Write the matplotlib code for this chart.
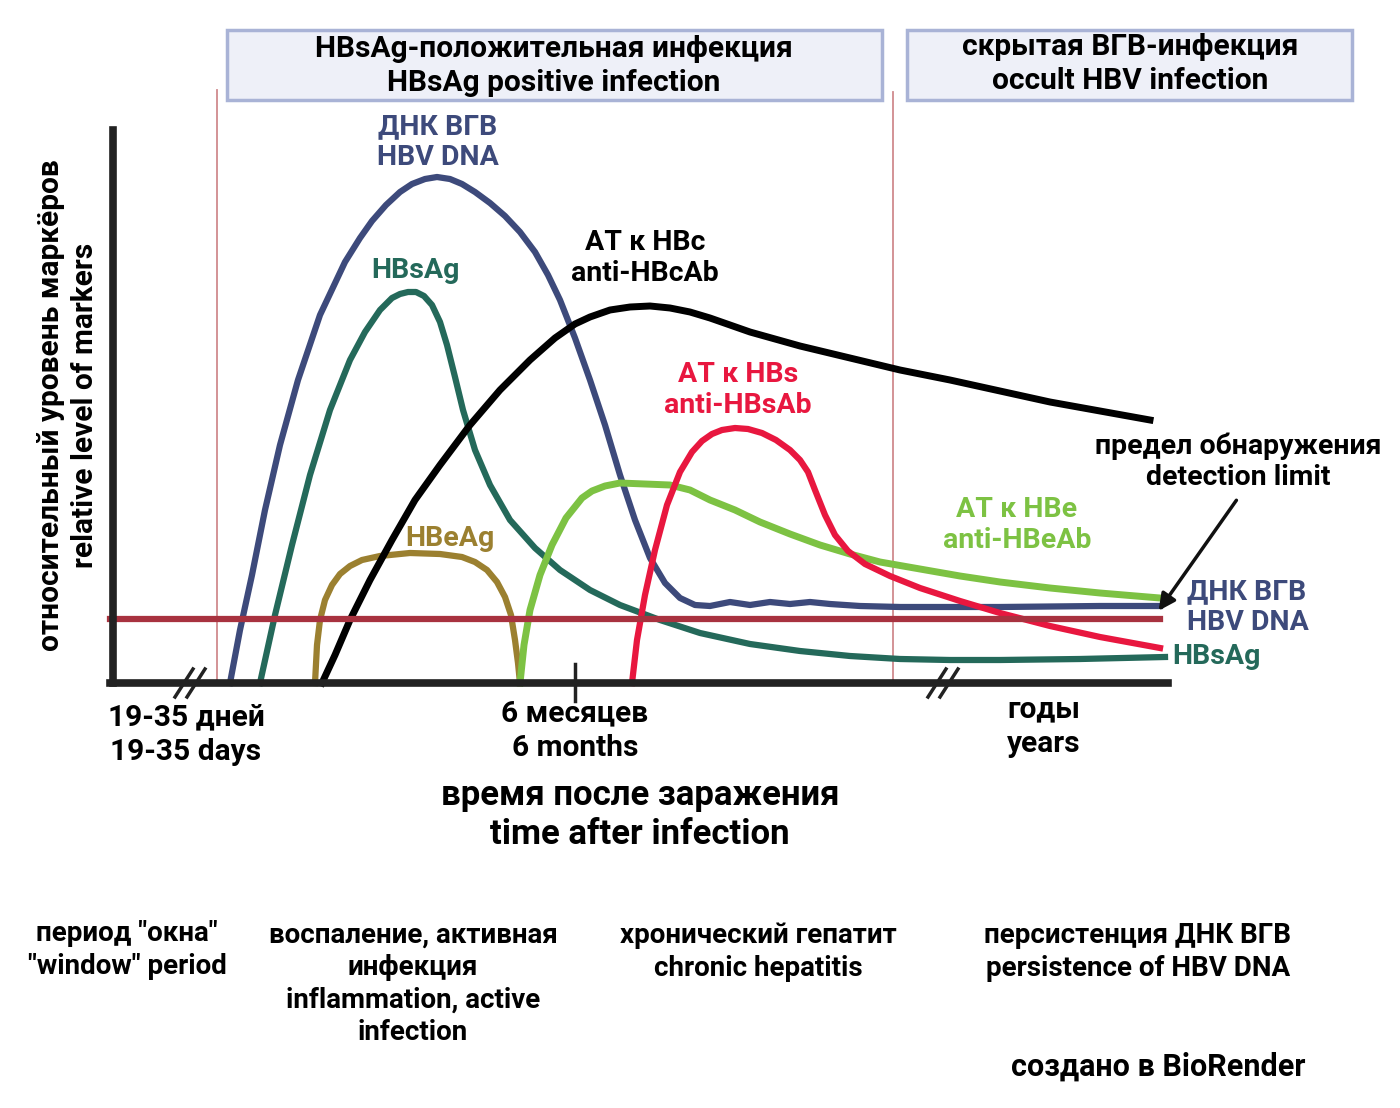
import matplotlib.pyplot as plt
from matplotlib.patches import Rectangle

plt.rcParams['font.family'] = ['Roboto', 'DejaVu Sans']

# curves in image pixel units (x: time, y: level, downwards)
dna_x = [230, 240, 252, 265, 280, 298, 320, 345, 360, 372, 386, 400, 412, 425, 437, 450, 462, 475, 490, 505, 520, 535, 548, 560, 575, 590, 605, 620, 635, 650, 665, 680, 695, 710, 730, 750, 770, 790, 810, 830, 860, 900, 1000, 1100, 1160]
dna_y = [683, 630, 575, 510, 445, 380, 315, 262, 238, 221, 205, 192, 184, 179, 177, 179, 184, 192, 203, 216, 232, 252, 275, 300, 338, 380, 425, 475, 520, 558, 583, 598, 605, 606, 602, 605, 602, 604, 602, 604, 606, 607, 607, 606, 606]

hbsag_x = [260, 275, 292, 310, 330, 350, 365, 380, 392, 400, 408, 416, 424, 432, 440, 447, 455, 463, 475, 490, 510, 535, 560, 590, 620, 660, 700, 750, 800, 850, 900, 950, 1000, 1080, 1165]
hbsag_y = [683, 615, 545, 475, 410, 360, 332, 310, 298, 294, 292, 292, 296, 305, 322, 345, 377, 410, 450, 485, 520, 548, 570, 590, 605, 620, 633, 644, 651, 656, 659, 660, 660, 659, 657]

hbeag_x = [315, 317, 320, 325, 332, 340, 350, 362, 380, 410, 440, 462, 475, 487, 497, 505, 511, 515, 518, 520]
hbeag_y = [683, 645, 620, 600, 585, 574, 566, 560, 556, 553, 554, 557, 562, 570, 582, 597, 615, 640, 663, 683]

hbcab_x = [322, 335, 350, 370, 392, 415, 440, 470, 500, 530, 555, 575, 590, 610, 630, 650, 670, 690, 710, 730, 750, 775, 800, 850, 900, 950, 1000, 1050, 1100, 1150]
hbcab_y = [683, 655, 620, 580, 540, 500, 465, 425, 390, 360, 338, 324, 317, 310, 307, 306, 308, 312, 318, 325, 332, 339, 346, 358, 370, 380, 391, 402, 411, 420]

hbeab_x = [520, 524, 530, 540, 552, 566, 582, 592, 605, 620, 645, 670, 690, 710, 735, 760, 790, 820, 850, 880, 920, 960, 1000, 1050, 1100, 1160]
hbeab_y = [683, 645, 610, 575, 545, 518, 498, 491, 486, 483, 484, 485, 490, 500, 510, 522, 534, 545, 554, 562, 569, 576, 582, 588, 593, 598]

hbsab_x = [632, 637, 645, 655, 667, 680, 692, 702, 712, 722, 735, 748, 762, 776, 790, 800, 808, 815, 825, 835, 848, 865, 890, 920, 960, 1000, 1050, 1100, 1160]
hbsab_y = [683, 640, 595, 550, 505, 472, 452, 441, 434, 430, 428, 429, 433, 440, 450, 460, 472, 490, 515, 535, 551, 564, 576, 588, 601, 613, 626, 637, 648]

limit_level = 619
baseline = 683
six_months_x = 575

fig = plt.figure(figsize=(14, 11.08), dpi=100)
ax = fig.add_axes([0, 0, 1, 1])
ax.set_xlim(0, 1400)
ax.set_ylim(1108, 0)
ax.axis('off')

# phase boxes and separators
ax.add_patch(Rectangle((227, 30), 655, 70, facecolor='#eef0f8', edgecolor='#a9b3d6', lw=2.5))
ax.add_patch(Rectangle((907, 30), 445, 70, facecolor='#eef0f8', edgecolor='#a9b3d6', lw=2.5))
ax.plot([217, 217], [90, baseline], color='#d08a8e', lw=1.3)
ax.plot([893, 893], [92, baseline], color='#d08a8e', lw=1.3)

box_kw = dict(ha='center', va='center', fontsize=21.5, fontweight='bold', linespacing=1.25)
ax.text(554, 66, 'HBsAg-положительная инфекция\nHBsAg positive infection', **box_kw)
ax.text(1130, 64, 'скрытая ВГВ-инфекция\noccult HBV infection', **box_kw)

# curves
lw = 4.5
ax.plot(hbeag_x, hbeag_y, color='#9b8030', lw=lw, solid_joinstyle='round')
ax.plot(hbsag_x, hbsag_y, color='#24695a', lw=lw, solid_joinstyle='round')
ax.plot(dna_x, dna_y, color='#3d4a7b', lw=lw, solid_joinstyle='round')
ax.plot(hbcab_x, hbcab_y, color='black', lw=lw + 0.5, solid_joinstyle='round')
ax.plot(hbeab_x, hbeab_y, color='#7dc243', lw=lw + 0.5, solid_joinstyle='round')
ax.plot(hbsab_x, hbsab_y, color='#e8173f', lw=lw, solid_joinstyle='round')

# detection limit
ax.plot([110, 1160], [limit_level, limit_level], color='#a8323f', lw=4.5)

# axes
ax.plot([113, 113], [130, baseline], color='#222222', lw=5.5)
ax.plot([110, 1168], [baseline, baseline], color='#222222', lw=5.5)
ax.plot([six_months_x, six_months_x], [664, 701], color='#222222', lw=2.5)
for bx in [190, 943]:
    for dx in [-6, 6]:
        ax.plot([bx + dx - 9, bx + dx + 9], [baseline + 14, baseline - 14], color='#222222', lw=2.5)

# arrow to detection limit
ax.annotate('', xy=(1157, 613), xytext=(1238, 498),
            arrowprops=dict(arrowstyle='-|>', color='#111111', lw=2.5, mutation_scale=25))

lab = dict(ha='center', va='center', fontsize=20.5, fontweight='bold', linespacing=1.2)
ax.text(438, 142, 'ДНК ВГВ\nHBV DNA', color='#3d4a7b', **lab)
ax.text(415, 271, 'HBsAg', color='#24695a', **lab)
ax.text(645, 258, 'АТ к HBc\nanti-HBcAb', color='black', **lab)
ax.text(738, 390, 'АТ к HBs\nanti-HBsAb', color='#e8173f', **lab)
ax.text(450, 538, 'HBeAg', color='#9b8030', **lab)
ax.text(1017, 525, 'АТ к HBe\nanti-HBeAb', color='#7dc243', **lab)
ax.text(1238, 462, 'предел обнаружения\ndetection limit', color='black', **lab)
ax.text(1187, 607, 'ДНК ВГВ\nHBV DNA', color='#3d4a7b', ha='left', va='center',
        fontsize=20.5, fontweight='bold', linespacing=1.2)
ax.text(1172, 657, 'HBsAg', color='#24695a', ha='left', va='center',
        fontsize=20.5, fontweight='bold')

tick = dict(ha='center', va='center', fontsize=21.5, fontweight='bold', linespacing=1.3)
ax.text(186, 735, '19-35 дней\n19-35 days', **tick)
ax.text(575, 731, '6 месяцев\n6 months', **tick)
ax.text(1044, 727, 'годы\nyears', **tick)
ax.text(640, 815, 'время после заражения\ntime after infection', ha='center', va='center',
        fontsize=25, fontweight='bold', linespacing=1.25)
ax.text(68, 405, 'относительный уровень маркёров\nrelative level of markers', rotation=90,
        ha='center', va='center', fontsize=21.5, fontweight='bold', linespacing=1.25)

bot = dict(ha='center', va='center', fontsize=20, fontweight='bold', linespacing=1.25)
ax.text(127, 950, 'период "окна"\n"window" period', **bot)
ax.text(413, 984, 'воспаление, активная\nинфекция\ninflammation, active\ninfection', **bot)
ax.text(758, 952, 'хронический гепатит\nchronic hepatitis', **bot)
ax.text(1138, 952, 'персистенция ДНК ВГВ\npersistence of HBV DNA', **bot)
ax.text(1158, 1067, 'создано в BioRender', ha='center', va='center', fontsize=22, fontweight='bold')

fig.savefig('out.png', dpi=100)
